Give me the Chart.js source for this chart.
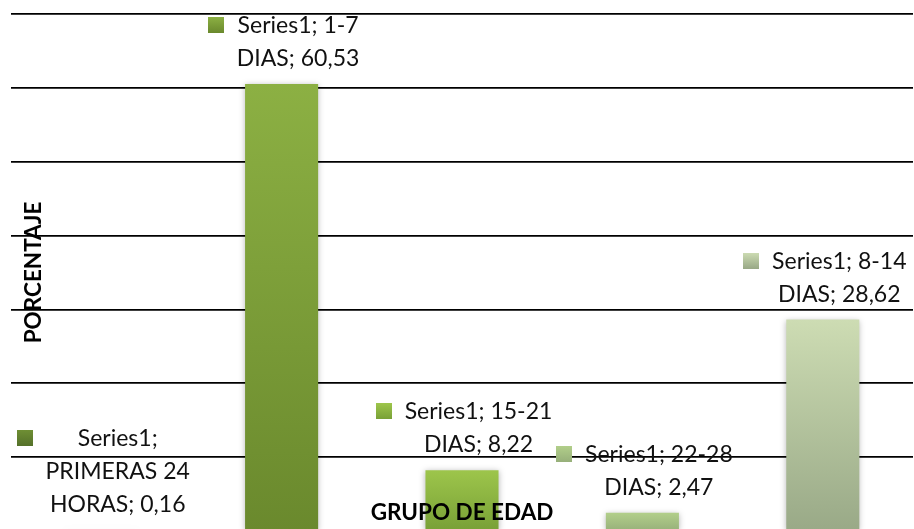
<!DOCTYPE html>
<html>
<head>
<meta charset="utf-8">
<script src="https://cdn.jsdelivr.net/npm/chart.js@4.4.1/dist/chart.umd.min.js"></script>
<style>
  html, body { margin: 0; padding: 0; background: #fff; overflow: hidden; width: 914px; height: 529px; }
  canvas { display: block; }
</style>
</head>
<body>
<canvas id="c" width="914" height="540"></canvas>
<script>
const seriesName = 'Series1';
const categories = ['PRIMERAS 24 HORAS', '1-7 DIAS', '15-21 DIAS', '22-28 DIAS', '8-14 DIAS'];
const values = [0.16, 60.53, 8.22, 2.47, 28.62];
const gradTop = ['#6f8f34', '#8cb043', '#9dc54b', '#b2cf8a', '#cddcb3'];
const gradBottom = ['#55712a', '#6a892d', '#78a036', '#97b07a', '#99a987'];
const yTitle = 'PORCENTAJE';
const xTitle = 'GRUPO DE EDAD';
const yMax = 70;
const yStep = 10;

const LABEL_FONT = '23px Lato';
const TITLE_FONT = 'bold 22.5px Lato';

function fmt(v) { return v.toFixed(2).replace('.', ','); }

function wrapText(ctx, text, maxW) {
  const words = text.split(' ');
  const lines = [];
  let cur = '';
  for (const w of words) {
    const test = cur ? cur + ' ' + w : w;
    if (cur && ctx.measureText(test).width > maxW) {
      lines.push(cur);
      cur = w;
    } else {
      cur = test;
    }
  }
  if (cur) lines.push(cur);
  return lines;
}

function barGradient(context) {
  const chart = context.chart;
  const i = context.dataIndex;
  const area = chart.chartArea;
  if (!area || i === undefined) return gradTop[i || 0];
  const ys = chart.scales.y;
  const top = ys.getPixelForValue(values[i]);
  const bottom = ys.getPixelForValue(0);
  const g = chart.ctx.createLinearGradient(0, top, 0, Math.max(bottom, top + 1));
  g.addColorStop(0, gradTop[i]);
  g.addColorStop(1, gradBottom[i]);
  return g;
}

const shadowPlugin = {
  id: 'barShadow',
  beforeDatasetsDraw(chart) {
    const ctx = chart.ctx;
    ctx.save();
    ctx.shadowColor = 'rgba(0,0,0,0.28)';
    ctx.shadowBlur = 6;
    ctx.shadowOffsetX = 0;
    ctx.shadowOffsetY = 1;
  },
  afterDatasetsDraw(chart) {
    chart.ctx.restore();
  }
};

const labelPlugin = {
  id: 'labelsAndTitles',
  afterDraw(chart) {
    const ctx = chart.ctx;
    const meta = chart.getDatasetMeta(0);
    ctx.save();
    ctx.font = LABEL_FONT;
    ctx.fillStyle = '#111';
    const lineH = 33, keySize = 16, gap = 13, maxW = 158;
    meta.data.forEach((bar, i) => {
      const text = seriesName + '; ' + categories[i] + '; ' + fmt(values[i]);
      const lines = wrapText(ctx, text, maxW);
      const tw = Math.max(...lines.map(l => ctx.measureText(l).width));
      const blockW = keySize + gap + tw;
      const left = bar.x - blockW / 2 + 2;
      const textCenter = left + keySize + gap + tw / 2;
      const lastBase = bar.y - 18;
      const firstBase = lastBase - (lines.length - 1) * lineH;
      // key
      const kTop = firstBase - 16;
      const kg = ctx.createLinearGradient(0, kTop, 0, kTop + keySize);
      kg.addColorStop(0, gradTop[i]);
      kg.addColorStop(1, gradBottom[i]);
      ctx.fillStyle = kg;
      ctx.fillRect(Math.round(left), Math.round(kTop), keySize, keySize);
      ctx.fillStyle = '#111';
      ctx.textAlign = 'center';
      ctx.textBaseline = 'alphabetic';
      lines.forEach((l, k) => ctx.fillText(l, textCenter, firstBase + k * lineH));
    });
    // axis titles
    ctx.font = TITLE_FONT;
    ctx.fillStyle = '#000';
    ctx.textAlign = 'center';
    ctx.textBaseline = 'alphabetic';
    const xs = chart.scales.x;
    ctx.fillText(xTitle, (xs.left + xs.right) / 2, 520);
    const area = chart.chartArea;
    ctx.save();
    ctx.translate(41, (area.top + area.bottom) / 2);
    ctx.rotate(-Math.PI / 2);
    ctx.fillText(yTitle, 0, 0);
    ctx.restore();
    ctx.restore();
  }
};

new Chart(document.getElementById('c'), {
  type: 'bar',
  data: {
    labels: categories,
    datasets: [{
      label: seriesName,
      data: values,
      backgroundColor: barGradient,
      borderWidth: 0,
      categoryPercentage: 1.0,
      barPercentage: 0.405
    }]
  },
  options: {
    responsive: false,
    animation: false,
    events: [],
    layout: { padding: { top: 14, left: 11, right: 1, bottom: 9 } },
    plugins: { legend: { display: false }, tooltip: { enabled: false } },
    scales: {
      x: { display: false },
      y: {
        min: 0,
        max: yMax,
        ticks: { display: false, stepSize: yStep },
        grid: { color: '#000', lineWidth: 1.8, drawTicks: false },
        border: { display: false }
      }
    }
  },
  plugins: [shadowPlugin, labelPlugin]
});
</script>
</body>
</html>
